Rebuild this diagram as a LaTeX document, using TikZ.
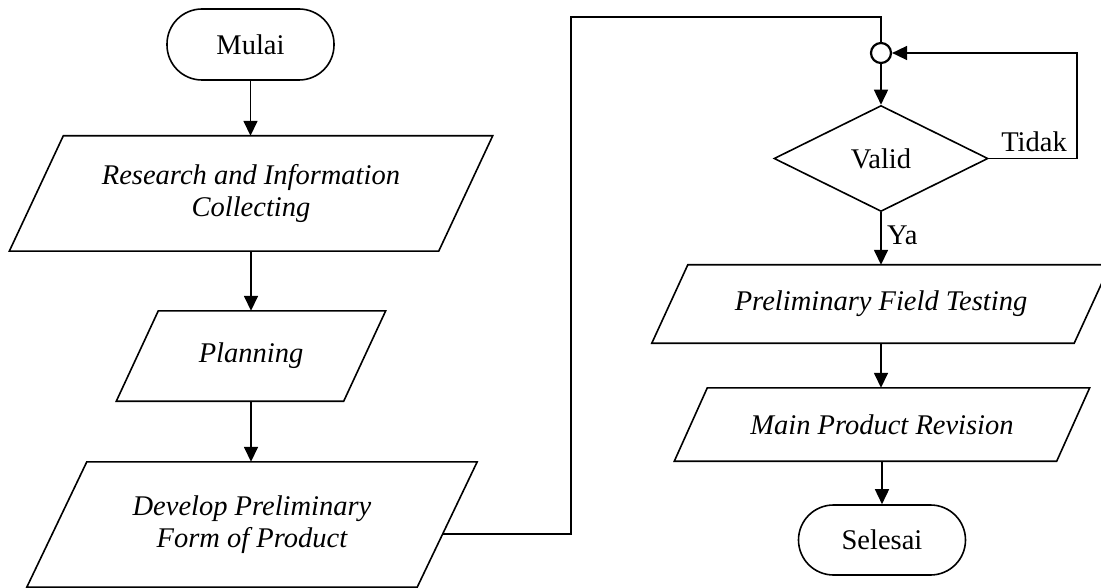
\documentclass[tikz,border=0pt]{standalone}
\usepackage{fontspec}
\setmainfont{Liberation Serif}
\usetikzlibrary{arrows.meta,shapes.geometric}
\newcommand{\drawpara}[2]{%
  \draw[line] ([xshift=#2pt]#1.north west) -- ([xshift=#2pt]#1.north east)
    -- ([xshift=-#2pt]#1.south east) -- ([xshift=-#2pt]#1.south west) -- cycle;}
\begin{document}
\begin{tikzpicture}[x=1pt,y=-1pt,
  every node/.style={font=\fontsize{28.5}{32}\selectfont},
  line/.style={line width=1.6pt},
  arr/.style={line, -{Triangle[length=15pt,width=14pt]}},
  term/.style={draw, line width=1.6pt, rectangle, rounded corners=35pt,
    minimum width=167pt, minimum height=71pt, inner sep=0pt},
  io/.style={rectangle, inner sep=0pt, align=center,
    font=\fontsize{28.5}{32}\selectfont\itshape},
  dec/.style={draw, line width=1.6pt, diamond, inner sep=0pt,
    minimum width=214pt, minimum height=106pt},
  junc/.style={draw, circle, line width=2.2pt, minimum size=20pt, inner sep=0pt},
  lab/.style={inner sep=0pt}
]
\useasboundingbox (0,0) rectangle (1101,588);

% left column
\node[term] (mulai) at (250.5,44.5) {Mulai};
\node[io, minimum width=429pt, minimum height=115pt] (research) at (251,193.5)
  {Research and Information\\Collecting};
\node[io, minimum width=227pt, minimum height=90pt] (planning) at (251,356) {Planning};
\node[io, minimum width=390pt, minimum height=125pt] (develop) at (252,524.5)
  {Develop Preliminary\\Form of Product};
\drawpara{research}{27}
\drawpara{planning}{21}
\drawpara{develop}{30}

% right column
\node[junc] (junc) at (881,53) {};
\node[dec] (valid) at (881,158.5) {Valid};
\node[io, minimum width=422pt, minimum height=78pt] (prelim) at (881,304)
  {Preliminary Field Testing};
\node[io, minimum width=382pt, minimum height=73pt] (main) at (882,424.5)
  {Main Product Revision};
\node[term, minimum height=70pt] (selesai) at (882,540) {Selesai};
\drawpara{prelim}{18}
\drawpara{main}{16.5}

% labels
\node[lab, anchor=west] (ya) at (887,235) {Ya};
\node[lab] (tidak) at (1034,142) {Tidak};

% helper coordinates
\coordinate (dvout) at (443,534);
\coordinate (c1) at (571,534);
\coordinate (c2) at (571,17);
\coordinate (c3) at (881,17);
\coordinate (t1) at (1077,158.5);
\coordinate (t2) at (1077,53);

% connectors
\draw[arr] (mulai.south) -- (mulai.south |- research.north);
\draw[arr] (research.south) -- (planning.north);
\draw[arr] (planning.south) -- (planning.south |- develop.north);
\draw[line] (dvout) -- (c1) -- (c2) -- (c3) -- (junc.north);
\draw[arr] (junc.south) -- (valid.north);
\draw[arr] (valid.east) -- (t1) -- (t2) -- (junc.east);
\draw[arr] (valid.south) -- (valid.south |- prelim.north);
\draw[arr] (prelim.south) -- (prelim.south |- main.north);
\draw[arr] (main.south) -- (main.south |- selesai.north);
\end{tikzpicture}
\end{document}
